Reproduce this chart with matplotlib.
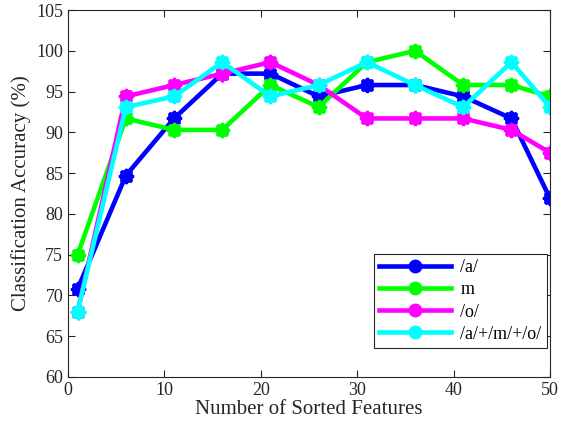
import matplotlib
matplotlib.use("Agg")
import matplotlib.pyplot as plt
from matplotlib.lines import Line2D

plt.rcParams['font.family'] = ['Liberation Serif', 'DejaVu Serif']

x = [1, 6, 11, 16, 21, 26, 31, 36, 41, 46, 50]
a_vals = [70.8, 84.7, 91.7, 97.2, 97.2, 94.4, 95.8, 95.8, 94.4, 91.7, 81.9]
m_vals = [75.0, 91.7, 90.3, 90.3, 95.8, 93.1, 98.6, 100.0, 95.8, 95.8, 94.4]
o_vals = [68.0, 94.4, 95.8, 97.2, 98.6, 95.8, 91.7, 91.7, 91.7, 90.3, 87.5]
all_vals = [68.0, 93.1, 94.4, 98.6, 94.4, 95.8, 98.6, 95.8, 93.1, 98.6, 93.1]
labels = ['/a/', 'm', '/o/', '/a/+/m/+/o/']
colors = ['#0000ff', '#00ff00', '#ff00ff', '#00ffff']

fig = plt.figure(figsize=(5.69, 4.28), dpi=100)
ax = fig.add_axes([0.1195, 0.1192, 0.8471, 0.8574])

handles = []
for vals, lab, c in zip([a_vals, m_vals, o_vals, all_vals], labels, colors):
    ax.plot(x, vals, '-', color=c, lw=3.3, marker='o', ms=9,
            mec=c, mfc=c)
    ax.plot(x, vals, ls='none', marker=(8, 2, 0), ms=11, mew=2.0, mec=c, mfc=c)
    handles.append(Line2D([], [], color=c, lw=3.3, marker='o', ms=9, mec=c, mfc=c, label=lab))

ax.set_xlim(0, 50)
ax.set_ylim(60, 105)
ax.set_xticks(range(0, 51, 10))
ax.set_yticks(range(60, 106, 5))
ax.tick_params(direction='in', top=True, right=True, labelsize=13, length=5,
               color='#262626', labelcolor='#262626')
for s in ax.spines.values():
    s.set_color('#262626')
    s.set_linewidth(0.8)
ax.set_xlabel('Number of Sorted Features', fontsize=15, color='#262626', labelpad=1)
ax.set_ylabel('Classification Accuracy (%)', fontsize=15, color='#262626', labelpad=4)

leg = ax.legend(handles=handles, loc='lower right', bbox_to_anchor=(0.9938, 0.079),
                borderaxespad=0, fontsize=13,
                fancybox=False, edgecolor='#262626', framealpha=1,
                handlelength=4.0, handletextpad=0.5, borderpad=0.3, labelspacing=0.28)
leg.get_frame().set_linewidth(0.8)

fig.savefig('out.png', dpi=100)
